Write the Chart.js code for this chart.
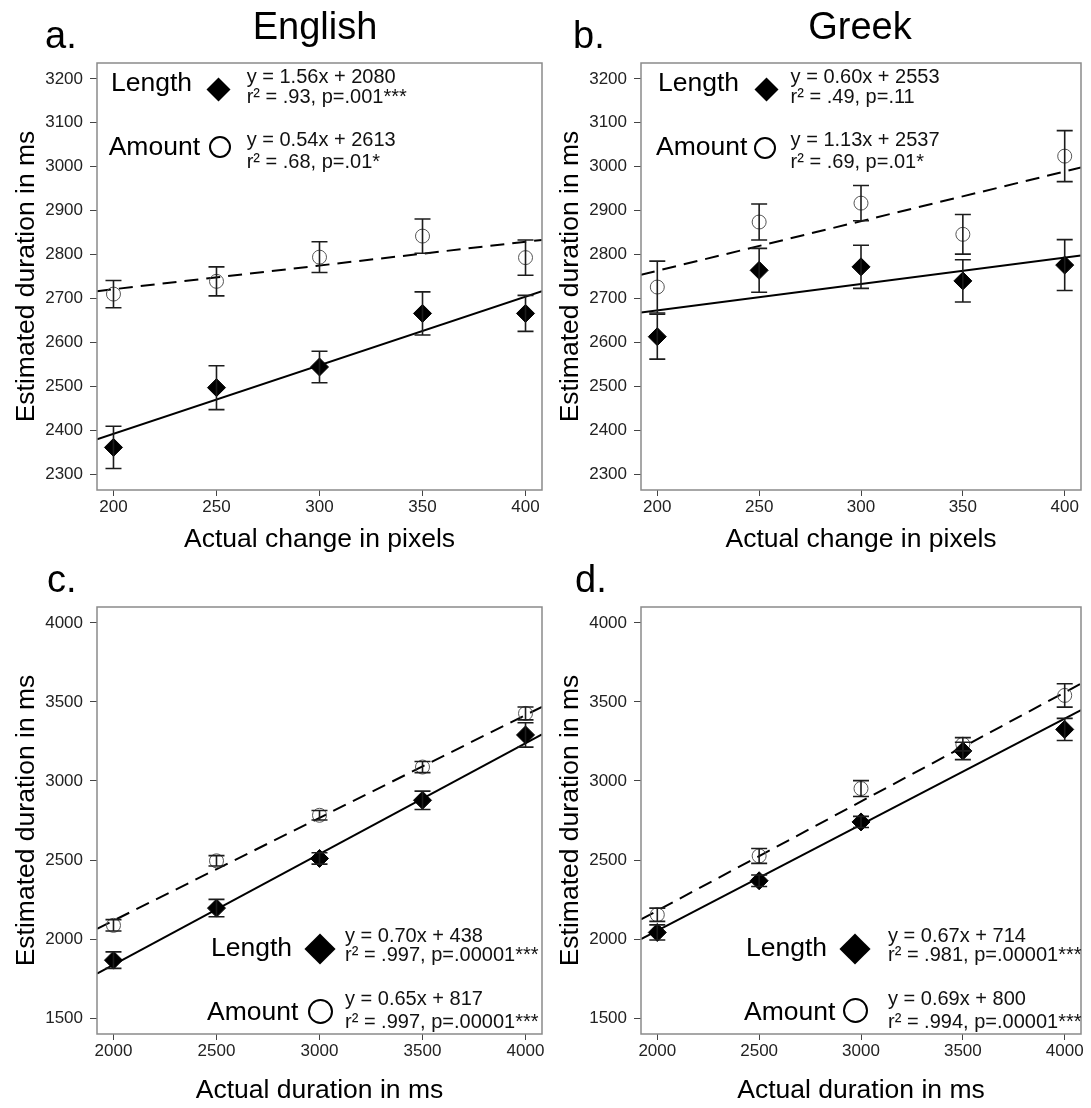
<!DOCTYPE html>
<html>
<head>
<meta charset="utf-8">
<script src="https://cdn.jsdelivr.net/npm/chart.js@4.4.1/dist/chart.umd.min.js"></script>
<style>
html,body{margin:0;padding:0;background:#fff;}
#wrap{position:relative;width:1091px;height:1108px;overflow:hidden;font-family:"Liberation Sans",Arial,Helvetica,sans-serif;color:#000;}
canvas{position:absolute;}
.t{position:absolute;white-space:nowrap;line-height:1;color:#000;}
.big{font-size:38px;}
.ttl{font-size:38px;transform:translateX(-50%);}
.lab{font-size:26.5px;}
.eq{font-size:20px;color:#111;}
.dia{position:absolute;background:#000;transform:rotate(45deg);}
.cir{position:absolute;border:2.6px solid #000;border-radius:50%;box-sizing:border-box;background:#fff;}
</style>
</head>
<body>
<div id="wrap">
  <canvas id="pc" style="left:0;top:544px;" width="560" height="564"></canvas>
  <canvas id="pd" style="left:544px;top:544px;" width="547" height="564"></canvas>
  <canvas id="pa" style="left:0;top:0;" width="560" height="560"></canvas>
  <canvas id="pb" style="left:544px;top:0;" width="547" height="560"></canvas>

  <div class="t big" style="left:45px;top:16px;">a.</div>
  <div class="t ttl" style="left:315px;top:7.3px;">English</div>
  <div class="t big" style="left:573px;top:16px;">b.</div>
  <div class="t ttl" style="left:860px;top:7.3px;">Greek</div>
  <div class="t big" style="left:47px;top:559.5px;">c.</div>
  <div class="t big" style="left:575px;top:559.5px;">d.</div>

  <!-- panel a annotation -->
  <div class="t lab" style="left:111px;top:69.3px;">Length</div>
  <div class="dia" style="left:210px;top:80.5px;width:17px;height:17px;"></div>
  <div class="t eq" style="left:246.7px;top:66.4px;">y = 1.56x + 2080</div>
  <div class="t eq" style="left:246.7px;top:85.8px;">r² = .93, p=.001***</div>
  <div class="t lab" style="left:108.7px;top:133.1px;">Amount</div>
  <div class="cir" style="left:208.5px;top:136px;width:22px;height:22px;"></div>
  <div class="t eq" style="left:246.7px;top:129.1px;">y = 0.54x + 2613</div>
  <div class="t eq" style="left:246.7px;top:151.1px;">r² = .68, p=.01*</div>

  <!-- panel b annotation -->
  <div class="t lab" style="left:658px;top:69.3px;">Length</div>
  <div class="dia" style="left:757.5px;top:80.5px;width:17px;height:17px;"></div>
  <div class="t eq" style="left:790.6px;top:66.4px;">y = 0.60x + 2553</div>
  <div class="t eq" style="left:790.6px;top:85.8px;">r² = .49, p=.11</div>
  <div class="t lab" style="left:656px;top:133.1px;">Amount</div>
  <div class="cir" style="left:754px;top:136.5px;width:22px;height:22px;"></div>
  <div class="t eq" style="left:790.6px;top:129.1px;">y = 1.13x + 2537</div>
  <div class="t eq" style="left:790.6px;top:151.1px;">r² = .69, p=.01*</div>

  <!-- panel c annotation -->
  <div class="t lab" style="left:211px;top:934.3px;">Length</div>
  <div class="dia" style="left:309px;top:938px;width:22px;height:22px;"></div>
  <div class="t eq" style="left:345px;top:924.8px;">y = 0.70x + 438</div>
  <div class="t eq" style="left:345px;top:943.6px;">r² = .997, p=.00001***</div>
  <div class="t lab" style="left:207px;top:997.6px;">Amount</div>
  <div class="cir" style="left:307.5px;top:998.5px;width:25px;height:25px;"></div>
  <div class="t eq" style="left:345px;top:988.1px;">y = 0.65x + 817</div>
  <div class="t eq" style="left:345px;top:1011.4px;">r² = .997, p=.00001***</div>

  <!-- panel d annotation -->
  <div class="t lab" style="left:746px;top:934.3px;">Length</div>
  <div class="dia" style="left:844px;top:938px;width:22px;height:22px;"></div>
  <div class="t eq" style="left:888px;top:924.8px;">y = 0.67x + 714</div>
  <div class="t eq" style="left:888px;top:943.6px;">r² = .981, p=.00001***</div>
  <div class="t lab" style="left:744px;top:997.6px;">Amount</div>
  <div class="cir" style="left:842.5px;top:997.5px;width:25px;height:25px;"></div>
  <div class="t eq" style="left:888px;top:988.1px;">y = 0.69x + 800</div>
  <div class="t eq" style="left:888px;top:1011.4px;">r² = .994, p=.00001***</div>
</div>

<script>
// ---------- data ----------
const pixelChange = [200, 250, 300, 350, 400];
const durationMs = [2000, 2500, 3000, 3500, 4000];

const pixelTicks = [200, 250, 300, 350, 400];
const durationTicks = [2000, 2500, 3000, 3500, 4000];
const estTicksTop = [2300, 2400, 2500, 2600, 2700, 2800, 2900, 3000, 3100, 3200];
const estTicksBottom = [1500, 2000, 2500, 3000, 3500, 4000];

// English, change in pixels
const enLengthPx = [2361, 2497, 2544, 2666, 2666];
const enLengthPxErr = [48, 50, 36, 49, 41];
const enAmountPx = [2710, 2739, 2794, 2842, 2793];
const enAmountPxErr = [31, 33, 35, 39, 40];
// Greek, change in pixels
const grLengthPx = [2613, 2764, 2772, 2740, 2776];
const grLengthPxErr = [51, 50, 49, 48, 58];
const grAmountPx = [2726, 2874, 2917, 2846, 3024];
const grAmountPxErr = [59, 41, 40, 45, 58];
// English, duration
const enLengthDur = [1867, 2196, 2510, 2878, 3291];
const enLengthDurErr = [52, 55, 36, 58, 77];
const enAmountDur = [2087, 2495, 2783, 3088, 3427];
const enAmountDurErr = [36, 33, 30, 35, 41];
// Greek, duration
const grLengthDur = [2042, 2369, 2741, 3190, 3326];
const grLengthDurErr = [48, 36, 35, 55, 70];
const grAmountDur = [2154, 2526, 2952, 3232, 3541];
const grAmountDurErr = [42, 47, 50, 42, 74];

// regression fits as printed in the figure [slope, intercept]
const enLengthPxFit = [1.56, 2080];
const enAmountPxFit = [0.54, 2613];
const grLengthPxFit = [0.60, 2553];
const grAmountPxFit = [1.13, 2537];
const enLengthDurFit = [0.70, 438];
const enAmountDurFit = [0.65, 817];
const grLengthDurFit = [0.67, 714];
const grAmountDurFit = [0.69, 800];

// ---------- rendering ----------
Chart.defaults.font.family = '"Liberation Sans", Arial, Helvetica, sans-serif';
Chart.defaults.animation = false;

const frameAndErrors = {
  id: 'frameAndErrors',
  afterDatasetsDraw(chart) {
    const {ctx, chartArea: a, scales: {x, y}} = chart;
    ctx.save();
    ctx.beginPath();
    ctx.rect(a.left, a.top, a.right - a.left, a.bottom - a.top);
    ctx.clip();
    ctx.strokeStyle = '#1c1c1c';
    ctx.lineWidth = 1.6;
    chart.data.datasets.forEach(ds => {
      if (!ds.err) return;
      ds.data.forEach((p, j) => {
        const px = x.getPixelForValue(p.x);
        const yt = y.getPixelForValue(p.y + ds.err[j]);
        const yb = y.getPixelForValue(p.y - ds.err[j]);
        ctx.beginPath();
        ctx.moveTo(px, yt); ctx.lineTo(px, yb);
        ctx.moveTo(px - 8, yt); ctx.lineTo(px + 8, yt);
        ctx.moveTo(px - 8, yb); ctx.lineTo(px + 8, yb);
        ctx.stroke();
      });
    });
    ctx.restore();
    ctx.save();
    ctx.strokeStyle = '#8a8a8a';
    ctx.lineWidth = 1.5;
    ctx.strokeRect(a.left, a.top, a.right - a.left, a.bottom - a.top);
    ctx.restore();
  }
};

function pts(xs, ys) { return xs.map((v, i) => ({x: v, y: ys[i]})); }
function fitLine(fit, xmin, xmax) {
  return [{x: xmin, y: fit[0] * xmin + fit[1]}, {x: xmax, y: fit[0] * xmax + fit[1]}];
}

function makePanel(id, o) {
  const datasets = [
    {type: 'line', data: fitLine(o.lenFit, o.xmin, o.xmax), borderColor: '#000', borderWidth: 2,
     pointRadius: 0, fill: false, order: 3},
    {type: 'line', data: fitLine(o.amtFit, o.xmin, o.xmax), borderColor: '#000', borderWidth: 2,
     borderDash: [14, 8], pointRadius: 0, fill: false, order: 3},
    {type: 'scatter', data: pts(o.xs, o.amt), err: o.amtErr, pointStyle: 'circle', pointRadius: 7,
     backgroundColor: 'rgba(255,255,255,0)', borderColor: '#555', borderWidth: 1, order: 2},
    {type: 'scatter', data: pts(o.xs, o.len), err: o.lenErr, pointStyle: 'rectRot', pointRadius: 9,
     backgroundColor: '#000', borderColor: '#000', borderWidth: 1, order: 1}
  ];
  new Chart(document.getElementById(id), {
    type: 'scatter',
    data: {datasets},
    options: {
      responsive: false,
      devicePixelRatio: 1,
      animation: false,
      layout: {padding: {left: 0, top: 63, right: o.padR, bottom: 0}},
      plugins: {legend: {display: false}, tooltip: {enabled: false}},
      scales: {
        x: {
          type: 'linear', min: o.xmin, max: o.xmax, bounds: 'data',
          afterBuildTicks: s => { s.ticks = o.xTicks.map(v => ({value: v})); },
          afterFit: s => { s.height = o.xAxisH; },
          grid: {display: true, drawOnChartArea: false, drawTicks: true, tickLength: 6, color: '#444', lineWidth: 1},
          border: {display: false},
          ticks: {font: {size: 17}, color: '#222', padding: 1, maxRotation: 0, autoSkip: false,
                  callback: v => String(v)},
          title: {display: true, text: o.xTitle, font: {size: 26.5}, color: '#000',
                  padding: {top: 0, bottom: o.xTitlePad}}
        },
        y: {
          type: 'linear', min: o.ymin, max: o.ymax, bounds: 'data',
          afterBuildTicks: s => { s.ticks = o.yTicks.map(v => ({value: v})); },
          afterFit: s => { s.width = 97; },
          grid: {display: true, drawOnChartArea: false, drawTicks: true, tickLength: 7, color: '#444', lineWidth: 1},
          border: {display: false},
          ticks: {font: {size: 17}, color: '#222', padding: 7, autoSkip: false,
                  callback: v => String(v)},
          title: {display: true, text: 'Estimated duration in ms', font: {size: 26.5}, color: '#000',
                  padding: {top: 11, bottom: 0}}
        }
      }
    },
    plugins: [frameAndErrors]
  });
}

const topCommon = {xs: pixelChange, xmin: 192, xmax: 408, ymin: 2264, ymax: 3236,
  xTicks: pixelTicks, yTicks: estTicksTop, xTitle: 'Actual change in pixels', xAxisH: 70, xTitlePad: 4};
const botCommon = {xs: durationMs, xmin: 1920, xmax: 4080, ymin: 1400, ymax: 4100,
  xTicks: durationTicks, yTicks: estTicksBottom, xTitle: 'Actual duration in ms', xAxisH: 74, xTitlePad: 1};

makePanel('pa', Object.assign({}, topCommon, {padR: 18,
  len: enLengthPx, lenErr: enLengthPxErr, amt: enAmountPx, amtErr: enAmountPxErr,
  lenFit: enLengthPxFit, amtFit: enAmountPxFit}));
makePanel('pb', Object.assign({}, topCommon, {padR: 5,
  len: grLengthPx, lenErr: grLengthPxErr, amt: grAmountPx, amtErr: grAmountPxErr,
  lenFit: grLengthPxFit, amtFit: grAmountPxFit}));
makePanel('pc', Object.assign({}, botCommon, {padR: 18,
  len: enLengthDur, lenErr: enLengthDurErr, amt: enAmountDur, amtErr: enAmountDurErr,
  lenFit: enLengthDurFit, amtFit: enAmountDurFit}));
makePanel('pd', Object.assign({}, botCommon, {padR: 5,
  len: grLengthDur, lenErr: grLengthDurErr, amt: grAmountDur, amtErr: grAmountDurErr,
  lenFit: grLengthDurFit, amtFit: grAmountDurFit}));
</script>
</body>
</html>
